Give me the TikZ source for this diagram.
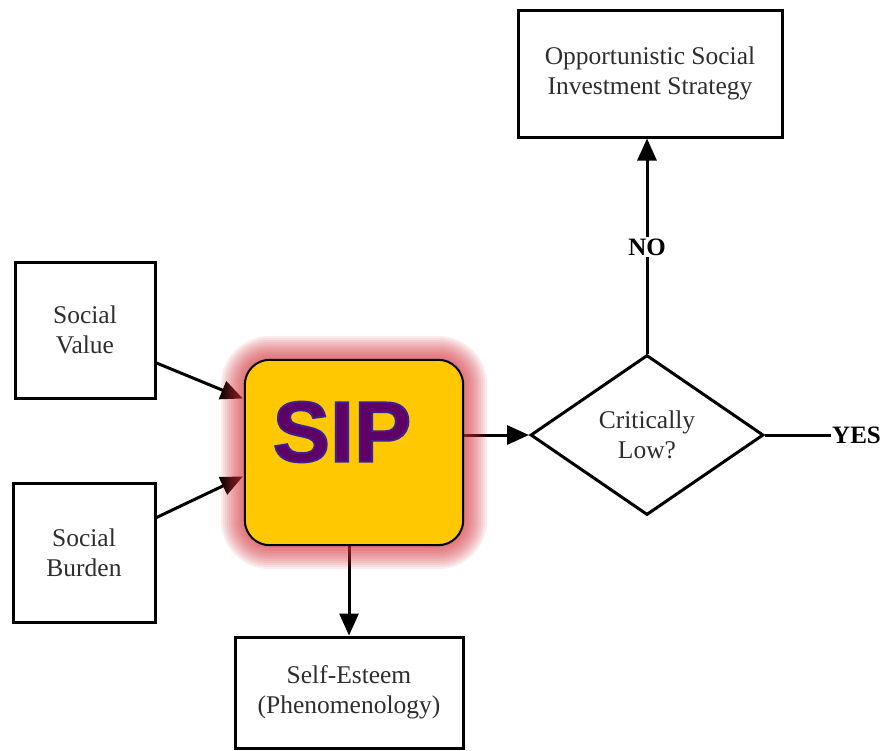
\documentclass[tikz,border=0pt]{standalone}
\usepackage{fontspec}
\setmainfont{Liberation Serif}
\newfontface\sipface{Liberation Sans Bold}[FakeBold=2.2]
\usetikzlibrary{arrows.meta,shapes.geometric,calc}
\definecolor{ink}{HTML}{2E2E2E}
\definecolor{sipfill}{RGB}{255,200,0}
\definecolor{sipglow}{RGB}{210,50,60}
\definecolor{sipword}{RGB}{94,0,102}
% stroke colour for the outlined lettering (set after the fill colour)
\newcommand\sipstroke{\special{pdf:literal direct 0.235 0.118 0.588 RG}}
\begin{document}
\begin{tikzpicture}[x=1pt,y=-1pt,
  box/.style={draw=black, line width=3pt, fill=white, inner sep=0pt,
    align=center, text=ink, font=\fontsize{25.5}{30}\selectfont},
  flow/.style={line width=3pt, -{Triangle[length=22pt,width=19pt]}},
  plain/.style={line width=3pt},
  tag/.style={inner sep=1pt, text=black, font=\fontsize{25}{30}\selectfont\bfseries}]
\useasboundingbox (0,0) rectangle (883,750);

% boxes
\node[box, minimum width=140pt, minimum height=136pt] (sv) at (85,330) {Social\\Value};
\node[box, minimum width=142pt, minimum height=139pt] (sb) at (84,552.5) {Social\\Burden};
\node[box, minimum width=264pt, minimum height=127pt] (osi) at (650,73.5) {Opportunistic Social\\Investment Strategy};
\node[box, minimum width=228pt, minimum height=111pt] (se) at (349,692.5) {Self-Esteem\\(Phenomenology)};
\node[box, diamond, aspect=1.456, minimum width=233pt, minimum height=160pt] (dia) at (647,435) {Critically\\Low?};

% the central box (placed first so that arrows can refer to it)
\node[minimum width=218pt, minimum height=185pt, inner sep=0pt] (sip) at (354,452.5) {};

% labels on the decision branches
\node[tag] (no) at (647,247) {NO};
\node[tag, anchor=west] (yes) at (831,435) {YES};

% connectors
\draw[flow] ($(sv.east)+(0,33)$) -- ($(sip.west)+(-2,-54)$);
\draw[flow] ($(sb.east)+(0,-35)$) -- ($(sip.west)+(-2,24)$);
\draw[flow] (sip.east |- dia.west) -- (dia.west);
\draw[flow] (sip.south -| se.north) -- (se.north);
\draw[plain] (dia.east) -- (dia.east -| yes.west);
\draw[plain] (dia.north) -- (no.south);
\draw[flow] (no.north) -- (no.north |- osi.south);

% soft red halo around the central box
\foreach \g in {24,22,...,2}{
  \pgfmathsetmacro\rc{25+\g}
  \fill[sipglow, opacity=0.085, rounded corners=\rc pt]
    ($(sip.south west)+(-\g,\g)$) rectangle ($(sip.north east)+(\g,-\g)$);
}
\draw[line width=2pt, fill=sipfill, rounded corners=25pt]
  (sip.south west) rectangle (sip.north east);

% the word SIP, filled purple with a blue-violet outline
\node[inner sep=0pt, text=sipword, font=\sipface\fontsize{86}{86}\selectfont]
  (sipname) at (342,432) {\sipstroke SIP};
\end{tikzpicture}
\end{document}
